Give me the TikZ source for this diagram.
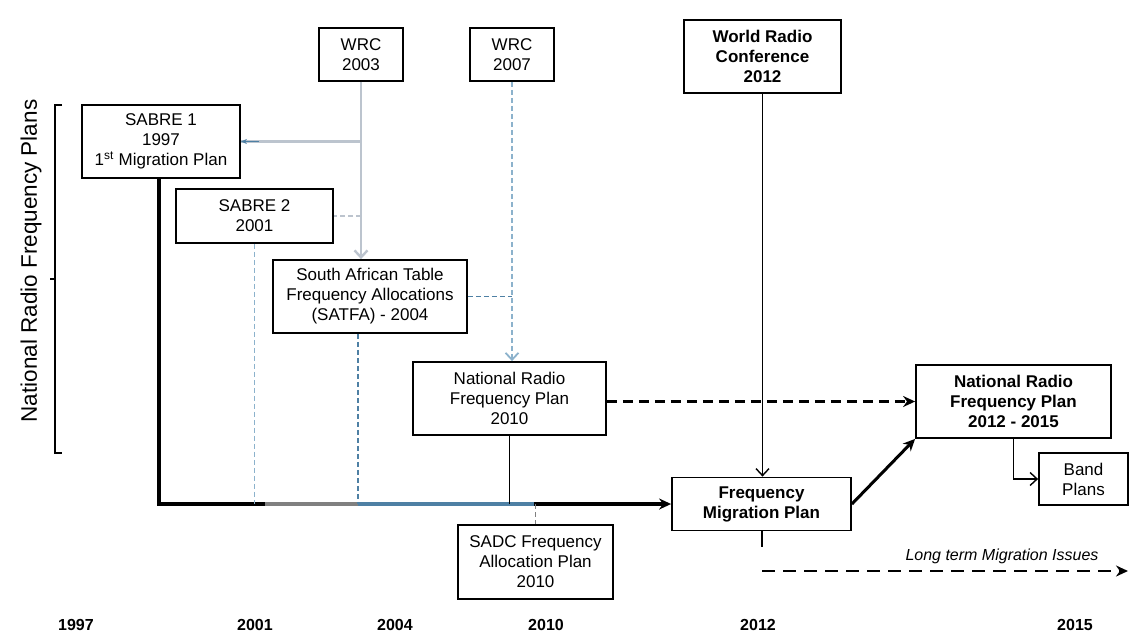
\documentclass[tikz,border=0pt]{standalone}
\usepackage{fontspec}
\setmainfont{Liberation Sans}
\usepackage{tikz}
\usetikzlibrary{arrows.meta}

\definecolor{lineblue}{RGB}{78,128,164}
\definecolor{paleblue}{RGB}{140,178,204}
\definecolor{palegray}{RGB}{188,196,206}

\begin{document}
\begin{tikzpicture}[x=1pt,y=-1pt,>={Stealth[length=12pt,width=11pt]},
  box/.style={draw,line width=1.8pt,align=center,inner sep=2pt,font=\fontsize{17}{20}\selectfont},
  boldbox/.style={box,font=\fontsize{17}{20}\selectfont\bfseries},
  yearlab/.style={font=\fontsize{16}{19}\selectfont\bfseries},
  timeline/.style={line width=3.5pt},
  thinline/.style={line width=1.4pt},
  opentip/.style={-{Straight Barb[length=7pt,width=13pt]}},
  longdash/.style={dash pattern=on 10pt off 6pt},
  shortdash/.style={dash pattern=on 5pt off 3pt}]
\useasboundingbox (0,0) rectangle (1130,633);

% side label and bracket
\node[rotate=90,font=\fontsize{22.5}{26}\selectfont] (plans) at (31,261) {National Radio Frequency Plans};
\draw[line width=1.4pt] (62,105) -- (55,105) -- (55,453) -- (62,453);
\draw[line width=1.2pt] (55,279) -- (50,279);

% boxes
\node[box,minimum width=158pt,minimum height=73pt] (sabreA) at (161,141.5) {SABRE 1\\1997\\1\textsuperscript{st} Migration Plan};
\node[box,minimum width=157pt,minimum height=54pt] (sabreB) at (254.5,216) {SABRE 2\\2001};
\node[box,minimum width=84pt,minimum height=53pt] (wrcA) at (361,54.5) {WRC\\2003};
\node[box,minimum width=84pt,minimum height=53pt] (wrcB) at (512,54.5) {WRC\\2007};
\node[box,minimum width=194pt,minimum height=73pt] (satfa) at (370,296.5) {South African Table\\Frequency Allocations\\(SATFA) - 2004};
\node[box,minimum width=193pt,minimum height=73pt] (nrfp) at (509.5,398.5) {National Radio\\Frequency Plan\\2010};
\node[boldbox,minimum width=157pt,minimum height=73pt] (wrcC) at (762.5,56.5) {World Radio\\Conference\\2012};
\node[boldbox,minimum width=195pt,minimum height=73pt] (nrfpB) at (1013.5,401.5) {National Radio\\Frequency Plan\\2012 - 2015};
\node[box,minimum width=89pt,minimum height=52pt] (band) at (1083.5,479) {Band\\Plans};
\node[boldbox,minimum width=179pt,minimum height=53pt] (fmp) at (761.5,504) {Frequency\\Migration Plan};
\node[box,minimum width=155pt,minimum height=74pt] (sadc) at (535.5,562) {SADC Frequency\\Allocation Plan\\2010};

% WRC links
\draw[palegray,line width=2.4pt,opentip] (wrcA.south) -- (wrcA.south |- satfa.north);
\draw[palegray,line width=2.4pt] (wrcA.south |- sabreA.east) -- (sabreA.east);
\draw[lineblue,line width=1pt,-{Stealth[length=6pt,width=5pt]}] ([xshift=18pt]sabreA.east) -- (sabreA.east);
\draw[palegray,line width=1.6pt,shortdash] (wrcA.south |- sabreB.east) -- (sabreB.east);
\draw[paleblue,line width=1.8pt,shortdash,opentip] (wrcB.south) -- (wrcB.south |- nrfp.north);
\draw[lineblue,line width=1.6pt,shortdash] (satfa.east) -- (wrcB.south |- satfa.east);
\draw[thinline,opentip] (wrcC.south) -- (wrcC.south |- fmp.north);

% time line
\coordinate (t97) at (159,504);
\coordinate (tg) at (265,504);
\coordinate (t04) at (358,504);
\coordinate (tsadc) at (534,504);
\draw[timeline] (t97 |- sabreA.south) -- (t97) -- (tg);
\draw[timeline,gray] (tg) -- (t04);
\draw[timeline,lineblue] (t04) -- (tsadc);
\draw[timeline,->] (tsadc) -- (t97 -| fmp.west);
\draw[paleblue,line width=1.8pt,shortdash] (sabreB.south) -- (sabreB.south |- t97);
\draw[lineblue,line width=1.8pt,shortdash] (t04 |- satfa.south) -- (t04);
\draw[thinline] (nrfp.south) -- (nrfp.south |- t97);
\draw[gray,line width=1pt,shortdash] (sadc.north |- t97) -- (sadc.north);

% onward plans
\draw[line width=2.6pt,longdash,->] (nrfpB.west -| nrfp.east) -- (nrfpB.west);
\draw[line width=3pt,->] (fmp.east) -- (nrfpB.south west);
\draw[thinline,opentip] (nrfpB.south) -- (nrfpB.south |- band.west) -- (band.west);

% long term
\coordinate (ltA) at (761.5,547);
\coordinate (ltB) at (762,571);
\coordinate (ltC) at (1128,571);
\draw[line width=2pt] (fmp.south) -- (ltA);
\draw[line width=2.6pt,dash pattern=on 13pt off 8pt,->] (ltB) -- (ltC);
\node[font=\fontsize{16}{19}\selectfont\itshape] (ltlab) at (1002,556) {Long term Migration Issues};

% years
\foreach \yr/\xx in {1997/76,2001/255,2004/395,2010/546,2012/758,2015/1075}
  \node[yearlab] (y\yr) at (\xx,625) {\yr};
\end{tikzpicture}
\end{document}
